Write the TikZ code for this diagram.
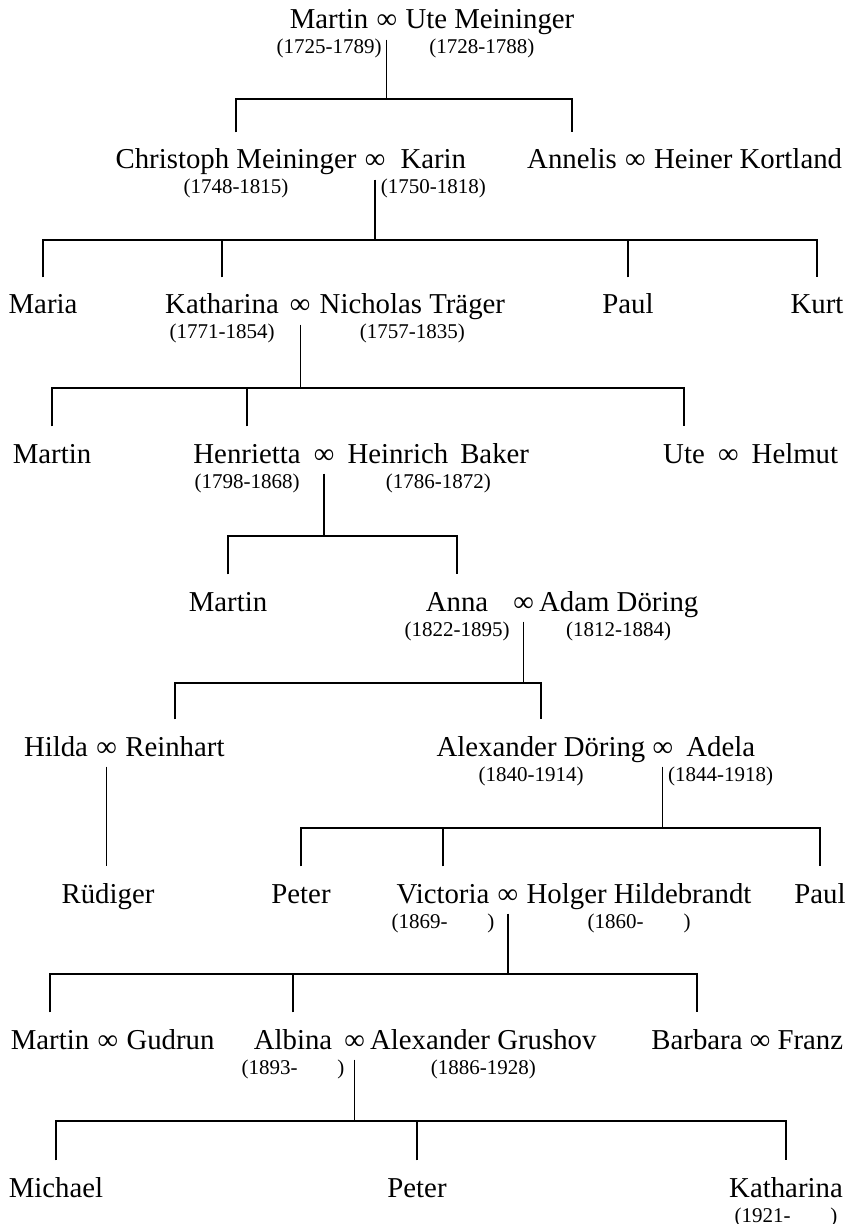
\documentclass[tikz,border=0pt]{standalone}
\usepackage{fontspec}
\setmainfont{Liberation Serif}
\usetikzlibrary{positioning}
\newcommand\namefont{\fontsize{14.4pt}{17pt}\selectfont}
\newcommand\yearfont{\fontsize{10.5pt}{12pt}\selectfont}
\tikzset{
  nm/.style={font=\namefont, inner xsep=0pt, inner ysep=2pt, text height=16pt, text depth=3pt, anchor=base},
  yrs/.style={font=\yearfont, inner sep=0pt, anchor=base},
}
\begin{document}
\begin{tikzpicture}[x=0.5pt, y=-0.5pt, line width=0.6pt]
    \useasboundingbox (0,0) rectangle (848,1224);

    % Generation 1
    \node[nm] (martin1) at (329,29) {Martin};
    \node[nm, right=3.6pt of martin1] (w1) {∞};
    \node[nm, right=3.6pt of w1] (ute1) {Ute Meininger};
    \node[yrs] (ym1) at ([yshift=-12.5pt]martin1.base) {(1725-1789)};
    \node[yrs] (yu1) at ([yshift=-12.5pt,xshift=-4pt]ute1.base) {(1728-1788)};

    % Generation 2
    \node[nm] (christoph) at (236,169) {Christoph Meininger};
    \node[nm, right=3.6pt of christoph] (w2) {∞};
    \node[nm, right=7pt of w2] (karin) {Karin};
    \node[yrs] (yc) at ([yshift=-12.5pt]christoph.base) {(1748-1815)};
    \node[yrs] (yk) at ([yshift=-12.5pt]karin.base) {(1750-1818)};
    \node[nm] (annelis) at (572,169) {Annelis};
    \node[nm, right=3.6pt of annelis] (w2b) {∞};
    \node[nm, right=3.6pt of w2b] (heiner) {Heiner Kortland};

    % Generation 3
    \node[nm] (maria) at (43,314) {Maria};
    \node[nm] (katharina1) at (222,314) {Katharina};
    \node[nm, right=5pt of katharina1] (w3) {∞};
    \node[nm, right=4pt of w3] (nicholas) {Nicholas Träger};
    \node[yrs] (yka) at ([yshift=-12.5pt]katharina1.base) {(1771-1854)};
    \node[yrs] (yn) at ([yshift=-12.5pt]nicholas.base) {(1757-1835)};
    \node[nm] (paul1) at (628,314) {Paul};
    \node[nm] (kurt) at (817,314) {Kurt};

    % Generation 4
    \node[nm] (martin2) at (52,463) {Martin};
    \node[nm] (henrietta) at (247,463) {Henrietta};
    \node[nm, right=6pt of henrietta] (w4) {∞};
    \node[nm, right=6pt of w4] (heinrich) {Heinrich\hspace{6pt}Baker};
    \node[yrs] (yh) at ([yshift=-12.5pt]henrietta.base) {(1798-1868)};
    \node[yrs] (yhb) at ([yshift=-12.5pt]heinrich.base) {(1786-1872)};
    \node[nm] (ute2) at (684,463) {Ute};
    \node[nm, right=6pt of ute2] (w4b) {∞};
    \node[nm, right=6pt of w4b] (helmut) {Helmut};

    % Generation 5
    \node[nm] (martin3) at (228,611) {Martin};
    \node[nm] (anna) at (457,611) {Anna};
    \node[nm, right=12pt of anna] (w5) {∞};
    \node[nm, right=2pt of w5] (adam) {Adam Döring};
    \node[yrs] (ya) at ([yshift=-12.5pt]anna.base) {(1822-1895)};
    \node[yrs] (yad) at ([yshift=-12.5pt]adam.base) {(1812-1884)};

    % Generation 6
    \node[nm] (hilda) at (56,756) {Hilda};
    \node[nm, right=3.6pt of hilda] (w6a) {∞};
    \node[nm, right=3.6pt of w6a] (reinhart) {Reinhart};
    \node[nm] (alexander1) at (541,756) {Alexander Döring};
    \node[nm, right=3pt of alexander1] (w6) {∞};
    \node[nm, right=6pt of w6] (adela) {Adela};
    \node[yrs] (yal) at ([yshift=-12.5pt,xshift=-5pt]alexander1.base) {(1840-1914)};
    \node[yrs] (yade) at ([yshift=-12.5pt]adela.base) {(1844-1918)};

    % Generation 7
    \node[nm] (ruediger) at (108,903) {Rüdiger};
    \node[nm] (peter1) at (301,903) {Peter};
    \node[nm] (victoria) at (443,903) {Victoria};
    \node[nm, right=3.6pt of victoria] (w7) {∞};
    \node[nm, right=3.6pt of w7] (holger) {Holger Hildebrandt};
    \node[yrs] (yv) at ([yshift=-12.5pt]victoria.base) {(1869-\hspace{20pt})};
    \node[yrs] (yho) at ([yshift=-12.5pt]holger.base) {(1860-\hspace{20pt})};
    \node[nm] (paul2) at (820,903) {Paul};

    % Generation 8
    \node[nm] (martin4) at (50,1049) {Martin};
    \node[nm, right=3.6pt of martin4] (w8a) {∞};
    \node[nm, right=3.6pt of w8a] (gudrun) {Gudrun};
    \node[nm] (albina) at (293,1049) {Albina};
    \node[nm, right=5.5pt of albina] (w8) {∞};
    \node[nm, right=2pt of w8] (alexander2) {Alexander Grushov};
    \node[yrs] (yalb) at ([yshift=-12.5pt]albina.base) {(1893-\hspace{20pt})};
    \node[yrs] (yag) at ([yshift=-12.5pt]alexander2.base) {(1886-1928)};
    \node[nm] (barbara) at (697,1049) {Barbara};
    \node[nm, right=3pt of barbara] (w8b) {∞};
    \node[nm, right=3pt of w8b] (franz) {Franz};

    % Generation 9
    \node[nm] (michael) at (56,1197) {Michael};
    \node[nm] (peter2) at (417,1197) {Peter};
    \node[nm] (katharina2) at (786,1197) {Katharina};
    \node[yrs] (ykb) at ([yshift=-12.5pt]katharina2.base) {(1921-\hspace{20pt})};

    % Bars
    \coordinate (b1) at (0,99);
    \coordinate (b2) at (0,240);
    \coordinate (b3) at (0,388);
    \coordinate (b4) at (0,536);
    \coordinate (b5) at (0,683);
    \coordinate (b7) at (0,828);
    \coordinate (b8) at (0,974);
    \coordinate (b9) at (0,1121);

    % Lines of descent
    \draw (w1.south) -- (w1.south |- b1);
    \draw (christoph.north) -- (christoph.north |- b1) -- (annelis.north |- b1) -- (annelis.north);

    \draw (w2.south) -- (w2.south |- b2);
    \draw (maria.north) -- (maria.north |- b2) -- (kurt.north |- b2) -- (kurt.north);
    \draw (katharina1.north) -- (katharina1.north |- b2);
    \draw (paul1.north) -- (paul1.north |- b2);

    \draw (w3.south) -- (w3.south |- b3);
    \draw (martin2.north) -- (martin2.north |- b3) -- (ute2.north |- b3) -- (ute2.north);
    \draw (henrietta.north) -- (henrietta.north |- b3);

    \draw (w4.south) -- (w4.south |- b4);
    \draw (martin3.north) -- (martin3.north |- b4) -- (anna.north |- b4) -- (anna.north);

    \draw (w5.south) -- (w5.south |- b5);
    \draw (reinhart.north) -- (reinhart.north |- b5) -- (alexander1.north |- b5) -- (alexander1.north);

    \draw (w6a.south) -- (w6a.south |- ruediger.north);

    \draw (w6.south) -- (w6.south |- b7);
    \draw (peter1.north) -- (peter1.north |- b7) -- (paul2.north |- b7) -- (paul2.north);
    \draw (victoria.north) -- (victoria.north |- b7);

    \draw (w7.south) -- (w7.south |- b8);
    \draw (martin4.north) -- (martin4.north |- b8) -- (barbara.north |- b8) -- (barbara.north);
    \draw (albina.north) -- (albina.north |- b8);

    \draw (w8.south) -- (w8.south |- b9);
    \draw (michael.north) -- (michael.north |- b9) -- (katharina2.north |- b9) -- (katharina2.north);
    \draw (peter2.north) -- (peter2.north |- b9);
\end{tikzpicture}
\end{document}
